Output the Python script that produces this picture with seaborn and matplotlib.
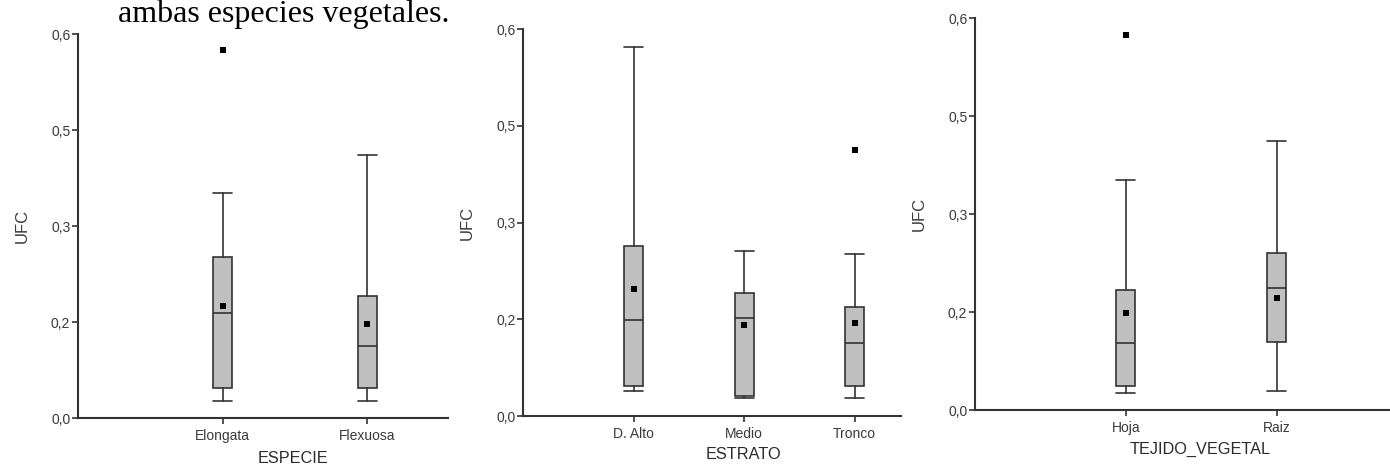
import matplotlib
matplotlib.use("Agg")
import matplotlib.pyplot as plt
import seaborn as sns

# ---- datos (UFC) ----
especie = ["Elongata", "Flexuosa"]
especie_whislo = [0.027, 0.027]
especie_q1 = [0.047, 0.047]
especie_med = [0.164, 0.112]
especie_q3 = [0.252, 0.190]
especie_whishi = [0.352, 0.411]
especie_mean = [0.175, 0.147]
especie_out_cat = ["Elongata"]
especie_out_val = [0.575]

estrato = ["D. Alto", "Medio", "Tronco"]
estrato_whislo = [0.039, 0.028, 0.028]
estrato_q1 = [0.047, 0.031, 0.047]
estrato_med = [0.149, 0.152, 0.113]
estrato_q3 = [0.264, 0.191, 0.169]
estrato_whishi = [0.572, 0.256, 0.251]
estrato_mean = [0.197, 0.141, 0.144]
estrato_out_cat = ["Tronco"]
estrato_out_val = [0.412]

tejido = ["Hoja", "Raiz"]
tejido_whislo = [0.026, 0.029]
tejido_q1 = [0.037, 0.104]
tejido_med = [0.103, 0.187]
tejido_q3 = [0.184, 0.240]
tejido_whishi = [0.352, 0.412]
tejido_mean = [0.149, 0.172]
tejido_out_cat = ["Hoja"]
tejido_out_val = [0.574]

y_ticks = [0.0, 0.15, 0.30, 0.45, 0.60]
y_ticklabels = ["0,0", "0,2", "0,3", "0,5", "0,6"]

sns.set_style("ticks")
plt.rcParams["font.family"] = ["Liberation Sans", "DejaVu Sans"]

DARK = "#333333"
BOX = "#c0c0c0"

fig = plt.figure(figsize=(13.9, 4.68), dpi=100)

paneles = [
    # rect, cats, stats..., xlabel, xlim right, ylabel coords, xlabel coords
    ([0.0561, 0.1068, 0.2662, 0.8205], especie, especie_whislo, especie_q1, especie_med,
     especie_q3, especie_whishi, especie_mean, especie_out_cat, especie_out_val,
     "ESPECIE", 1.56, (-0.130, 0.5), (0.58, -0.085)),
    ([0.3763, 0.1111, 0.2719, 0.8269], estrato, estrato_whislo, estrato_q1, estrato_med,
     estrato_q3, estrato_whishi, estrato_mean, estrato_out_cat, estrato_out_val,
     "ESTRATO", 2.42, (-0.127, 0.5), (0.582, -0.08)),
    ([0.7014, 0.1239, 0.2986, 0.8376], tejido, tejido_whislo, tejido_q1, tejido_med,
     tejido_q3, tejido_whishi, tejido_mean, tejido_out_cat, tejido_out_val,
     "TEJIDO_VEGETAL", 1.75, (-0.116, 0.5), (0.542, -0.08)),
]

for (rect, cats, wlo, q1, med, q3, whi, mean, out_cat, out_val,
     xlab, xright, ylc, xlc) in paneles:
    ax = fig.add_axes(rect)
    n = len(cats)
    stats = [dict(whislo=wlo[i], q1=q1[i], med=med[i], q3=q3[i], whishi=whi[i],
                  fliers=[], label=cats[i]) for i in range(n)]
    # ancho de caja ~19 px en todos los paneles
    ax_w_px = rect[2] * 1390
    span = xright + 1.0
    width = 19.0 / (ax_w_px / span)
    ax.bxp(stats, positions=list(range(n)), widths=width, showfliers=False,
           patch_artist=True,
           boxprops=dict(facecolor=BOX, edgecolor=DARK, linewidth=1.2),
           medianprops=dict(color=DARK, linewidth=1.2),
           whiskerprops=dict(color=DARK, linewidth=1.2),
           capprops=dict(color=DARK, linewidth=1.2),
           capwidths=width)

    # medias
    sns.stripplot(x=cats, y=mean, order=cats, jitter=False, marker="s",
                  color="black", size=5, linewidth=0, ax=ax, zorder=5)
    # atipicos
    sns.stripplot(x=out_cat, y=out_val, order=cats, jitter=False, marker="s",
                  color="black", size=5, linewidth=0, ax=ax, zorder=5)

    ax.set_xlim(-1.0, xright)
    ax.set_ylim(0, 0.6)
    ax.set_xticks(range(n))
    ax.set_xticklabels(cats)
    ax.set_yticks(y_ticks)
    ax.set_yticklabels(y_ticklabels)
    ax.tick_params(axis="both", length=4, width=1.2, color=DARK,
                   labelsize=10, labelcolor="#3a3a3a")
    ax.tick_params(axis="y", pad=1.5)
    ax.tick_params(axis="x", pad=4)

    for s in ["top", "right"]:
        ax.spines[s].set_visible(False)
    for s in ["left", "bottom"]:
        ax.spines[s].set_color(DARK)
        ax.spines[s].set_linewidth(1.5)

    ax.set_ylabel("UFC", fontsize=12, color="#3a3a3a")
    ax.yaxis.set_label_coords(*ylc)
    ax.set_xlabel(xlab, fontsize=11.7, color="#2a2a2a")
    ax.xaxis.set_label_coords(*xlc)

# texto del documento que asoma por arriba
fig.text(118 / 1390, 1 - 22 / 468, "ambas especies vegetales.",
         fontsize=23, family=["Liberation Serif", "DejaVu Serif"],
         ha="left", va="baseline", color="black")

fig.savefig("out.png", dpi=100)
